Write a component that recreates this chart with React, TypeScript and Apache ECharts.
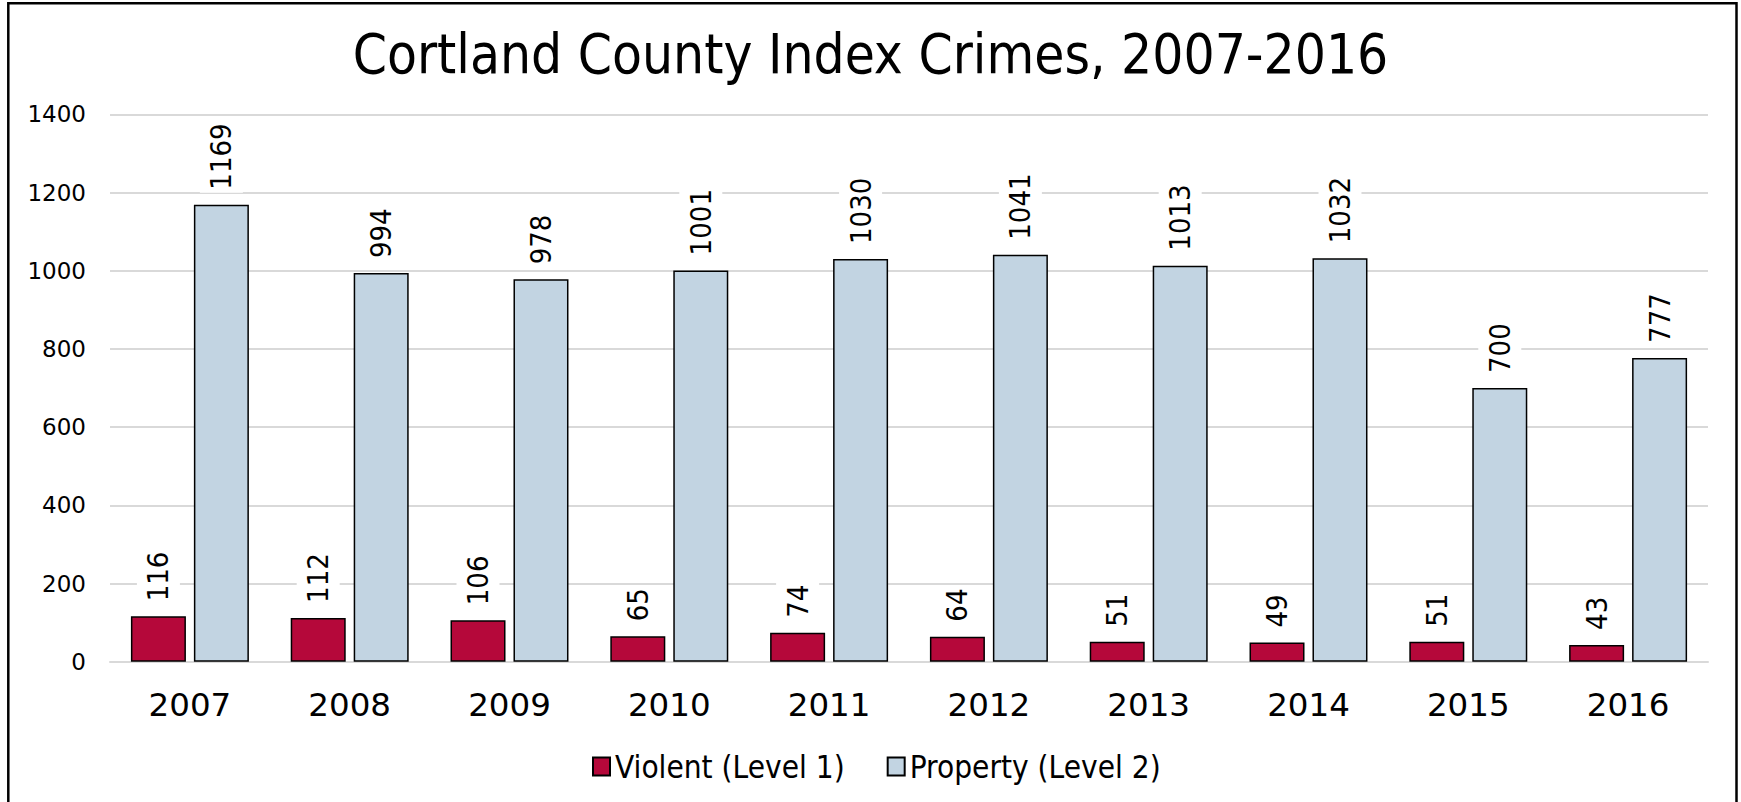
import React, { useEffect, useRef } from "react";
import * as echarts from "echarts";

const titleText = "Cortland County Index Crimes, 2007-2016";
const years = ["2007", "2008", "2009", "2010", "2011", "2012", "2013", "2014", "2015", "2016"];
const violent = [116, 112, 106, 65, 74, 64, 51, 49, 51, 43];
const property = [1169, 994, 978, 1001, 1030, 1041, 1013, 1032, 700, 777];
const seriesNames = ["Violent (Level 1)", "Property (Level 2)"];
const seriesColors = ["#B5083A", "#C2D4E2"];

const COND = "'DejaVu Sans Condensed', 'DejaVu Sans', sans-serif";
const NORMAL = "'DejaVu Sans', sans-serif";

export default function App() {
  const ref = useRef<HTMLDivElement>(null);
  useEffect(() => {
    if (!ref.current) return;
    const chart = echarts.init(ref.current, undefined, { renderer: "svg" });
    const label = {
      show: true,
      position: "top",
      rotate: 90,
      align: "left",
      verticalAlign: "middle",
      distance: 12,
      fontSize: 29,
      fontFamily: COND,
      color: "#000",
      backgroundColor: "#fff",
      padding: [7, 3, 7, 3],
    };
    chart.setOption({
      animation: false,
      backgroundColor: "#fff",
      title: {
        text: titleText,
        left: "center",
        top: 21,
        textStyle: { fontSize: 54.5, fontWeight: "normal", fontFamily: COND, color: "#000" },
      },
      legend: {
        left: 587,
        top: 746,
        itemWidth: 17,
        itemHeight: 18,
        itemGap: 42,
        icon: "rect",
        textStyle: { fontSize: 31.3, fontFamily: COND, color: "#000" },
        data: seriesNames,
      },
      grid: { left: 110, right: 33, top: 114.4, bottom: 140.3 },
      xAxis: {
        type: "category",
        data: years,
        axisTick: { show: false },
        axisLine: { lineStyle: { color: "#D9D9D9", width: 2 } },
        axisLabel: { fontSize: 32.5, fontFamily: NORMAL, color: "#000", margin: 27 },
      },
      yAxis: {
        type: "value",
        min: 0,
        max: 1400,
        interval: 200,
        axisLine: { show: false },
        axisTick: { show: false },
        splitLine: { lineStyle: { color: "#D9D9D9", width: 2 } },
        axisLabel: {
          fontSize: 23,
          fontFamily: NORMAL,
          color: "#000",
          margin: 24,
          formatter: (v: number) => String(v),
        },
      },
      series: [
        {
          name: seriesNames[0],
          type: "bar",
          data: violent,
          barWidth: 55,
          barGap: "14.5%",
          itemStyle: { color: seriesColors[0], borderColor: "#000", borderWidth: 1.5 },
          label,
        },
        {
          name: seriesNames[1],
          type: "bar",
          data: property,
          barWidth: 55,
          barGap: "14.5%",
          itemStyle: { color: seriesColors[1], borderColor: "#000", borderWidth: 1.5 },
          label,
        },
      ],
      graphic: [
        {
          type: "rect",
          silent: true,
          z: 100,
          shape: { x: 8.3, y: 3.3, width: 1728.2, height: 900 },
          style: { fill: "none", stroke: "#000", lineWidth: 2.5 },
        },
      ],
    });
    return () => chart.dispose();
  }, []);
  return (
    <div
      ref={ref}
      style={{ position: "absolute", left: 0, top: 0, width: 1741, height: 802 }}
    />
  );
}
